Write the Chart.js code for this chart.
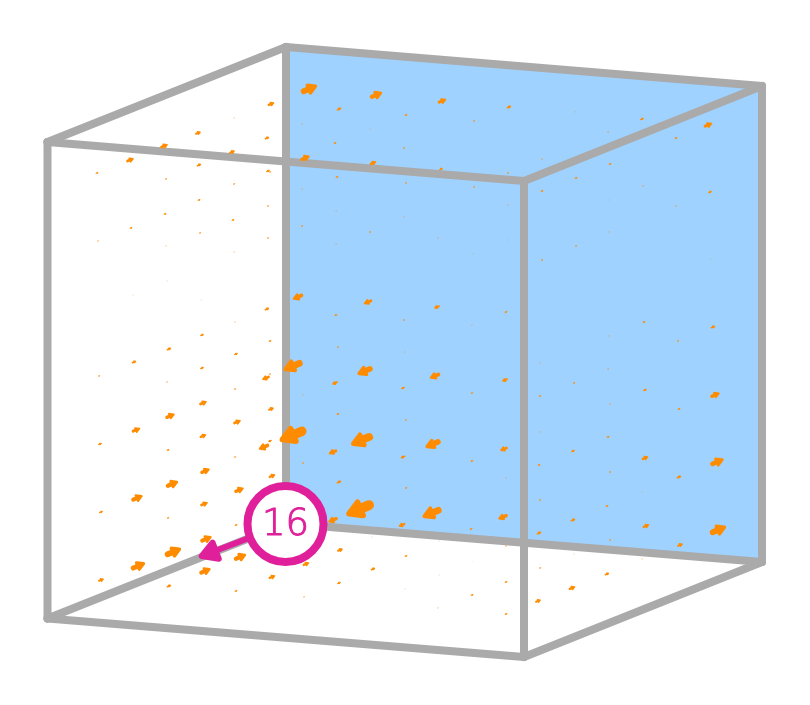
<!DOCTYPE html>
<html>
<head>
<meta charset="utf-8">
<style>
html, body { margin: 0; padding: 0; background: #fff; }
canvas { display: block; }
</style>
<script src="https://cdn.jsdelivr.net/npm/chart.js@4"></script>
</head>
<body>
<canvas id="chart" width="810" height="705"></canvas>
<script>
// cube corners, back face first then front face
const cornerX = [286, 762, 762, 286, 47.5, 524, 524, 47.5]
const cornerY = [47, 86, 562, 523.5, 142, 181, 657, 618.5]
const cubeEdges = [[0, 1], [1, 2], [2, 3], [3, 0], [4, 5], [5, 6], [6, 7], [7, 4], [0, 4], [1, 5], [2, 6], [3, 7]]

// arrow centres and signed strength (negative points down-left)
const arrowX = [
    271, 234, 198, 267, 164, 232, 130, 199, 268, 270, 97, 166, 234, 199, 268, 165, 233, 131, 200, 268, 98, 166, 234,
    309, 376, 442, 509, 339, 406, 474, 302, 370, 335, 404, 305, 373, 441, 508, 337, 406, 474, 302, 508, 336, 404, 302, 370, 438, 508, 336, 473,
    575, 642, 708, 608, 676, 542, 610, 576, 542, 643, 710, 676, 609, 609, 576, 542, 711,
    167, 133, 201, 267, 235, 202, 270, 169, 236, 134, 202, 266, 270, 99, 167, 235, 203, 271, 170, 237, 136, 203, 264, 270, 100, 168, 235,
    298, 368, 437, 506, 336, 404, 472, 338, 405, 293, 365, 435, 505, 335, 403, 472, 303, 338, 406, 293, 362, 433, 504, 333, 403, 472, 303,
    644, 713, 609, 678, 608, 540, 574, 540, 645, 715, 679, 610, 540, 608, 573, 645, 717, 539, 610, 679,
    642, 607, 540, 573, 646, 718, 539, 610, 680, 642, 574, 540, 607, 572, 538,
    339, 406, 506, 360, 432, 503, 333, 402, 471, 506, 372, 439, 340, 406, 373, 473, 439, 306, 339, 472, 405, 506, 304, 438, 506,
    205, 272, 172, 137, 239, 204, 101, 168, 236, 206, 173, 138, 240, 205, 101, 169, 272, 236
]
const arrowY = [
    104, 118, 133, 138, 146, 152, 160, 165, 171, 172, 173, 179, 184, 200, 206, 214, 220, 228, 233, 238, 241, 246, 252,
    89, 95, 101, 107, 109, 115, 121, 124, 129, 143, 148, 158, 163, 169, 173, 177, 183, 187, 189, 205, 211, 217, 226, 232, 238, 240, 244, 254,
    112, 119, 125, 132, 138, 159, 164, 178, 191, 186, 192, 206, 200, 232, 246, 260, 259,
    281, 295, 300, 309, 322, 335, 341, 349, 354, 362, 368, 378, 374, 376, 382, 389, 403, 409, 416, 422, 430, 436, 447, 441, 444, 450, 457,
    297, 302, 307, 312, 315, 320, 325, 347, 352, 366, 371, 376, 380, 383, 388, 393, 395, 414, 420, 435, 440, 444, 449, 452, 457, 461, 463,
    322, 327, 336, 341, 369, 363, 383, 396, 390, 395, 409, 404, 432, 437, 451, 458, 462, 465, 472, 477,
    492, 506, 500, 520, 526, 530, 533, 540, 545, 559, 554, 568, 574, 588, 601,
    482, 488, 478, 509, 513, 517, 520, 525, 529, 546, 537, 541, 550, 556, 569, 562, 575, 564, 583, 595, 589, 582, 597, 608, 614,
    471, 476, 484, 498, 490, 504, 512, 518, 525, 539, 552, 566, 557, 571, 580, 586, 577, 591
]
const arrowValue = [
    7, 1, 6, 5, 8, 6, 8, 5, 4, 2, 3, 2, 2, 3, 2, 3, 3, 3, 2, 2, 1.5, 1, 1,
    17, 13, 9, 5, 5, 3, 2, 1, 0.7, 3, 2, 10, 7, 4, 2, 3, 2, 2, 1, 1, 1, 1, 2, 2, 1, 0.7, 1, 0.7,
    0.8, 4, 9, 1.5, 3, 1.5, 3, 3, 3, 1.5, 4, 1.5, 0.7, 1, 2, 2, 0.7,
    0.7, 0.7, 0.7, 5, 1, 4, 3, 5, 4, 5, 4, -8, -2, 2, 1.5, 2, 8, 6, 10, 8, 9, 7, -11, -4, 4, 3, 2,
    -11, -9, -6, -3, -3, -2, -1, -2, -1, -20, -16, -11, -6, -6, -4, -2.5, -1, -3, -2, -28, -23, -16, -8, -9, -5, -3, -2,
    3, 5, 1, 2, 1.5, 1, 2.5, 2.5, 4, 10, 3, 1.5, 1, 3, 4, 7, 14, 3, 2, 5,
    0.7, 3, 2, 5, 7, 17, 5, 2, 6, 1, 0.7, 2, 5, 7, 6,
    5, 2.5, -1, -29, -20, -10, -10, -7, -3, 1.5, 0.7, 0.7, 6, 3, 5, 0.5, 0.7, 7, 4, 3, 0.7, 3, 1.5, 1, 3,
    10, 7, 13, 12, 10, 8, 4, 2.5, 3, 12, 17, 15, 13, 12, 6, 5, 7, 3
]

// numbered badge and its leader
const badgeLabel = '16'
const badgeX = [285.5]
const badgeY = [524]
const leaderX = [249, 211]
const leaderY = [538, 552.5]
const leaderTipRotation = 249

const ARROW_ANGLE = 23 * Math.PI / 180
const orange = '#ff8c00'
const gray = '#aaaaaa'
const pink = '#df209a'

const backFace = [0, 1, 2, 3, 0].map(i => ({ x: cornerX[i], y: cornerY[i] }))

const faceDataset = {
    data: backFace,
    showLine: true,
    fill: 'shape',
    backgroundColor: '#a0d2ff',
    borderWidth: 0,
    pointRadius: 0,
    order: 10
}

const edgeDatasets = cubeEdges.map(edge => ({
    data: edge.map(i => ({ x: cornerX[i], y: cornerY[i] })),
    showLine: true,
    borderColor: gray,
    borderWidth: 8,
    borderCapStyle: 'round',
    pointRadius: 0,
    order: 5
}))

// each arrow is a shaft line plus a rounded triangle head
const arrowDatasets = arrowX.flatMap((x, i) => {
    const value = arrowValue[i]
    const len = Math.abs(value)
    const dir = Math.sign(value)
    const ux = dir * Math.cos(ARROW_ANGLE)
    const uy = -dir * Math.sin(ARROW_ANGLE)
    const y = arrowY[i]
    const head = { x: x + ux * len * 0.13, y: y + uy * len * 0.13 }
    const tail = { x: x - ux * len * 0.34, y: y - uy * len * 0.34 }
    return [{
        data: [tail, head],
        showLine: true,
        borderColor: orange,
        borderWidth: len * 0.34,
        borderCapStyle: 'round',
        pointRadius: 0,
        order: 2
    }, {
        data: [head],
        pointStyle: 'triangle',
        pointRadius: len * 0.28,
        pointRotation: dir > 0 ? 67 : 247,
        pointBackgroundColor: orange,
        pointBorderColor: orange,
        pointBorderWidth: len * 0.2,
        order: 2
    }]
})

const leaderDataset = {
    data: leaderX.map((x, i) => ({ x: x, y: leaderY[i] })),
    showLine: true,
    borderColor: pink,
    borderWidth: 6,
    pointRadius: [0, 10],
    pointStyle: 'triangle',
    pointRotation: leaderTipRotation,
    pointBackgroundColor: pink,
    pointBorderColor: pink,
    pointBorderWidth: 6,
    order: 1
}

const badgeDataset = {
    data: badgeX.map((x, i) => ({ x: x, y: badgeY[i] })),
    pointRadius: 38,
    pointBackgroundColor: '#ffffff',
    pointBorderColor: pink,
    pointBorderWidth: 8,
    order: 0
}

const roundJoins = {
    id: 'roundJoins',
    beforeDatasetsDraw(chart) {
        chart.ctx.lineJoin = 'round'
    }
}

const badgeText = {
    id: 'badgeText',
    afterDatasetsDraw(chart) {
        const ctx = chart.ctx
        const x = chart.scales.x.getPixelForValue(badgeX[0])
        const y = chart.scales.y.getPixelForValue(badgeY[0]) + 1
        ctx.save()
        ctx.fillStyle = pink
        ctx.strokeStyle = pink
        ctx.lineWidth = 1
        ctx.font = '200 37px "DejaVu Sans"'
        ctx.textAlign = 'center'
        ctx.textBaseline = 'middle'
        ctx.fillText(badgeLabel, x, y)
        ctx.strokeText(badgeLabel, x, y)
        ctx.restore()
    }
}

new Chart(document.getElementById('chart'), {
    type: 'scatter',
    data: { datasets: [faceDataset, ...edgeDatasets, ...arrowDatasets, leaderDataset, badgeDataset] },
    options: {
        responsive: false,
        animation: false,
        events: [],
        layout: { padding: 0, autoPadding: false },
        scales: {
            x: { display: false, min: 0, max: 810 },
            y: { display: false, min: 0, max: 705, reverse: true }
        },
        plugins: { legend: { display: false }, tooltip: { enabled: false } }
    },
    plugins: [roundJoins, badgeText]
})
</script>
</body>
</html>
